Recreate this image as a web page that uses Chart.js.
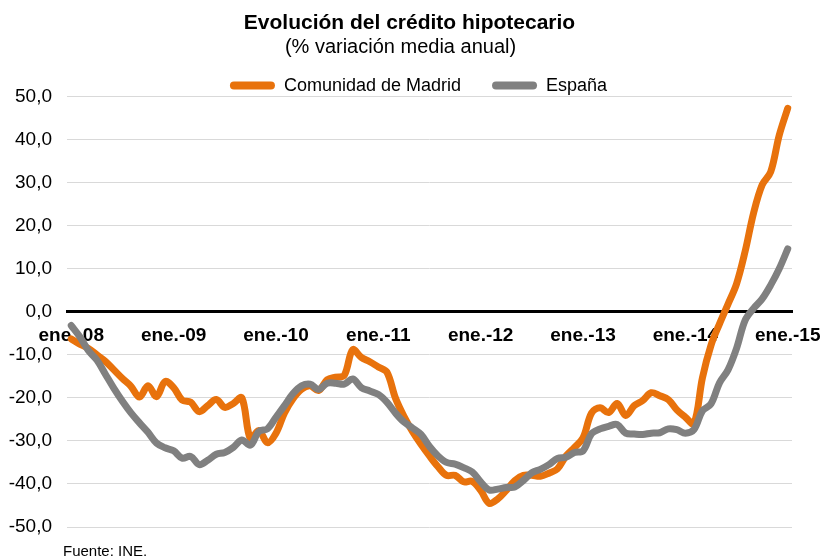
<!DOCTYPE html>
<html>
<head>
<meta charset="utf-8">
<script src="https://cdn.jsdelivr.net/npm/chart.js@4.4.1/dist/chart.umd.min.js"></script>
<style>
  html, body { margin: 0; padding: 0; background: #ffffff; }
  #wrap { position: relative; width: 821px; height: 560px; }
  #c { position: absolute; left: 0; top: 0; }
  #src { position: absolute; left: 63px; top: 542px; font-family: "Liberation Sans", Arial, sans-serif; font-size: 15px; color: #000; }
</style>
</head>
<body>
<div id="wrap">
  <canvas id="c" width="821" height="560"></canvas>
  <div id="src">Fuente: INE.</div>
</div>
<script>
// Month names and years used to build the monthly categories (ene.-08 ... ene.-15)
const monthNames = ['ene.', 'feb.', 'mar.', 'abr.', 'may.', 'jun.', 'jul.', 'ago.', 'sep.', 'oct.', 'nov.', 'dic.'];
const years = ['08', '09', '10', '11', '12', '13', '14', '15'];
const tickLabels = ['ene.-08', 'ene.-09', 'ene.-10', 'ene.-11', 'ene.-12', 'ene.-13', 'ene.-14', 'ene.-15'];

const categories = [];
years.forEach(function (y, yi) {
  monthNames.forEach(function (m, mi) {
    if (yi < years.length - 1 || mi === 0) categories.push(m + '-' + y);
  });
});

// Comunidad de Madrid, % variación media anual (Jan 2008 - Jan 2015)
const madrid = [
  -6.3, -7.5, -8.5, -10.0, -11.5, -13.5, -15.5, -17.3, -19.8, -17.2, -19.7, -16.2,
  -17.6, -20.5, -21.0, -23.2, -21.8, -20.4, -22.2, -21.3, -20.0, -29.5, -27.6, -30.4,
  -28.2, -23.5, -20.2, -18.0, -17.2, -18.3, -15.8, -15.2, -14.8, -8.8, -10.6, -11.6,
  -12.8, -14.0, -20.0, -24.3, -27.8, -30.8, -33.5, -36.0, -38.0, -38.0, -39.5, -39.4,
  -41.5, -44.5, -43.5, -41.5, -39.2, -38.0, -38.0, -38.2, -37.5, -36.5, -33.5, -31.5,
  -29.3, -23.5, -22.3, -23.4, -21.3, -24.1, -21.8, -20.6, -18.8, -19.5, -20.4, -22.8,
  -24.5, -26.0, -15.3, -7.8, -2.8, 1.8, 6.5, 14.0, 23.0, 29.5, 32.5, 41.0,
  47.3
];

// España, % variación media anual (Jan 2008 - Jan 2015)
const espana = [
  -3.2, -5.8, -9.0, -11.2, -14.5, -17.8, -20.8, -23.5, -25.8, -28.0, -30.5, -31.6,
  -32.3, -34.0, -33.6, -35.5, -34.5, -33.1, -32.7, -31.5, -29.8, -31.0, -27.8, -27.2,
  -24.5, -21.8, -19.0, -17.2, -16.8, -18.0, -16.6, -16.6, -16.8, -15.6, -17.6, -18.4,
  -19.2, -21.0, -23.5, -25.6, -27.0, -28.5, -31.3, -33.5, -35.0, -35.4, -36.2, -37.2,
  -39.5, -41.4, -41.2, -40.8, -40.7, -39.2, -37.4, -36.6, -35.5, -34.1, -33.8, -32.7,
  -32.3, -28.3, -27.2, -26.6, -26.2, -28.2, -28.4, -28.5, -28.2, -28.1, -27.2, -27.4,
  -28.2, -27.4, -23.0, -21.4, -16.5, -13.5, -8.5, -2.0, 0.8, 3.0, 6.2, 10.0,
  14.6
];

const seriesNames = ['Comunidad de Madrid', 'España'];
const FONT = '"Liberation Sans", Arial, Helvetica, sans-serif';

// Legend / title layout tweak: wide horizontal spacing between legend items,
// compact legend height, small horizontal shifts
const LEGEND_GAP = 31;
const LEGEND_HEIGHT = 53;
const LEGEND_SHIFT = 18;
const TITLE_SHIFT = 9;
const layoutTweak = {
  id: 'layoutTweak',
  beforeLayout: function (chart) {
    const lg = chart.legend;
    if (lg && !lg._tweaked) {
      const origFit = lg.fit.bind(lg);
      lg.fit = function () { origFit(); this.height = LEGEND_HEIGHT + (LEGEND_GAP - 33); };
      lg._tweaked = true;
    }
  },
  afterLayout: function (chart) {
    const lg = chart.legend;
    if (lg) { lg.left += LEGEND_SHIFT; lg.right += LEGEND_SHIFT; }
    const tb = chart.titleBlock;
    if (tb) { tb.left += TITLE_SHIFT; tb.right += TITLE_SHIFT; }
  }
};

new Chart(document.getElementById('c'), {
  type: 'line',
  data: {
    labels: categories,
    datasets: [
      {
        label: seriesNames[0],
        data: madrid,
        borderColor: '#E8720C',
        backgroundColor: '#E8720C',
        borderWidth: 7,
        pointRadius: 0,
        tension: 0.35,
        borderCapStyle: 'round',
        borderJoinStyle: 'round',
        order: 1
      },
      {
        label: seriesNames[1],
        data: espana,
        borderColor: '#808080',
        backgroundColor: '#808080',
        borderWidth: 7,
        pointRadius: 0,
        tension: 0.35,
        borderCapStyle: 'round',
        borderJoinStyle: 'round',
        order: 0
      }
    ]
  },
  plugins: [layoutTweak],
  options: {
    responsive: false,
    animation: false,
    devicePixelRatio: 1,
    layout: { padding: { left: 9, right: 29, top: 0, bottom: 33 } },
    plugins: {
      title: {
        display: true,
        text: 'Evolución del crédito hipotecario',
        color: '#000',
        font: { family: FONT, size: 21, weight: 'bold' },
        padding: { top: 10.4, bottom: 0 }
      },
      subtitle: {
        display: true,
        text: '(% variación media anual)',
        color: '#000',
        font: { family: FONT, size: 20, weight: 'normal' },
        padding: { top: 0, bottom: -14 }
      },
      legend: {
        display: true,
        position: 'top',
        labels: {
          color: '#000',
          font: { family: FONT, size: 18 },
          boxWidth: 45,
          boxHeight: 8,
          padding: LEGEND_GAP,
          useBorderRadius: true,
          borderRadius: 4,
          generateLabels: function (chart) {
            const items = Chart.defaults.plugins.legend.labels.generateLabels(chart);
            items.forEach(function (it) { it.lineWidth = 0; });
            return items;
          },
          sort: function (a, b) { return a.datasetIndex - b.datasetIndex; }
        }
      },
      tooltip: { enabled: false }
    },
    scales: {
      x: {
        type: 'category',
        position: { y: 0 },
        offset: true,
        grid: { display: false, drawTicks: false },
        border: { display: true, color: '#000', width: 3 },
        afterFit: function (s) { s.paddingLeft = 0; s.paddingRight = 0; },
        ticks: {
          autoSkip: false,
          maxRotation: 0,
          minRotation: 0,
          padding: 13,
          color: '#000',
          font: { family: FONT, size: 19, weight: 'bold' },
          callback: function (value, index) {
            const lab = categories[index];
            return tickLabels.indexOf(lab) >= 0 ? lab : '';
          }
        }
      },
      y: {
        min: -50,
        max: 50,
        grid: { color: '#d9d9d9', lineWidth: 1, drawTicks: false },
        border: { display: false },
        afterFit: function (s) { s.width = 58; },
        ticks: {
          stepSize: 10,
          padding: 15,
          color: '#000',
          font: { family: FONT, size: 19 },
          callback: function (v) { return v.toFixed(1).replace('.', ','); }
        }
      }
    }
  }
});
</script>
</body>
</html>
